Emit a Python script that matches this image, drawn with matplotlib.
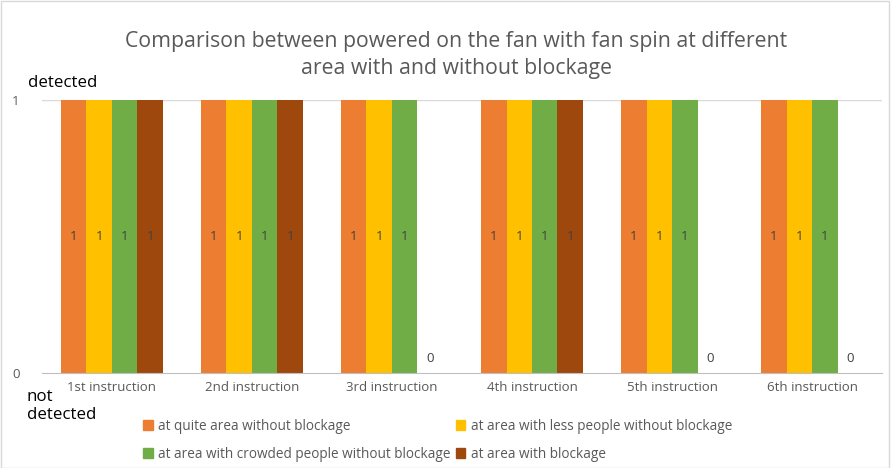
import matplotlib
matplotlib.use("Agg")
import matplotlib.pyplot as plt
from matplotlib.patches import Rectangle, Patch
import numpy as np

plt.rcParams['font.family'] = ['Open Sans', 'DejaVu Sans']

categories = ["1st instruction", "2nd instruction", "3rd instruction",
              "4th instruction", "5th instruction", "6th instruction"]
series_names = ["at quite area without blockage",
                "at area with less people without blockage",
                "at area with crowded people without blockage",
                "at area with blockage"]
quiet_area = [1, 1, 1, 1, 1, 1]
less_people = [1, 1, 1, 1, 1, 1]
crowded_people = [1, 1, 1, 1, 1, 1]
with_blockage = [1, 1, 0, 1, 0, 0]
series_values = [quiet_area, less_people, crowded_people, with_blockage]
colors = ["#ED7D31", "#FFC000", "#70AD47", "#9E480E"]

fig = plt.figure(figsize=(8.91, 4.68), dpi=100)
fig.patches.append(Rectangle((0.001, 0.001), 0.997, 0.997, transform=fig.transFigure,
                             fill=False, edgecolor="#D9D9D9", linewidth=1))

ax = fig.add_axes([0.047, 0.203, 0.943, 0.583])
x = np.arange(len(categories))
bw = 0.182
offsets = (np.arange(4) - 1.5) * bw
text_col = "#595959"

for vals, off, col in zip(series_values, offsets, colors):
    bars = ax.bar(x + off, vals, width=bw, color=col, zorder=2)
    for b, v in zip(bars, vals):
        if v > 0:
            ax.text(b.get_x() + b.get_width() / 2, v / 2, str(v), ha="center", va="center",
                    fontsize=9.5, color="#404040", zorder=3)
        else:
            ax.annotate(str(v), (b.get_x() + b.get_width() / 2, v), xytext=(0, 6),
                        textcoords="offset points", ha="center", va="bottom",
                        fontsize=9.5, color="#404040")

ax.set_xlim(-0.5, len(categories) - 0.5)
ax.set_ylim(0, 1)
ax.set_yticks([0, 1])
ax.set_yticklabels(["0", "1"], fontsize=9.5, color=text_col)
ax.set_xticks(x)
ax.set_xticklabels(categories, fontsize=9.5, color=text_col)
ax.tick_params(axis="both", length=0, pad=6)
ax.tick_params(axis="y", pad=16)
for s in ["top", "right", "left"]:
    ax.spines[s].set_visible(False)
ax.spines["bottom"].set_color("#BFBFBF")
ax.axhline(1, color="#D9D9D9", linewidth=1, zorder=1)

fig.text(0.512, 0.934, "Comparison between powered on the fan with fan spin at different\narea with and without blockage",
         ha="center", va="top", fontsize=15.3, color=text_col, linespacing=1.38)

fig.text(0.031, 0.823, "detected", ha="left", va="center", fontsize=12.2, color="#000000")
fig.text(0.030, 0.133, "not\ndetected", ha="left", va="center", fontsize=12.2,
         color="#000000", linespacing=1.15)

# legend entries reordered so that the two-column layout reads row by row
order = [0, 2, 1, 3]
handles = [Patch(facecolor=colors[i], edgecolor=colors[i]) for i in order]
labels = [series_names[i] for i in order]
fig.legend(handles, labels, loc="upper left", bbox_to_anchor=(0.161, 0.105),
           ncol=2, frameon=False, fontsize=9.8, labelcolor=text_col,
           handlelength=0.7, handleheight=0.7, handletextpad=0.4,
           columnspacing=0.35, borderaxespad=0, borderpad=0, labelspacing=0.95)

fig.savefig("out.png", dpi=100)
